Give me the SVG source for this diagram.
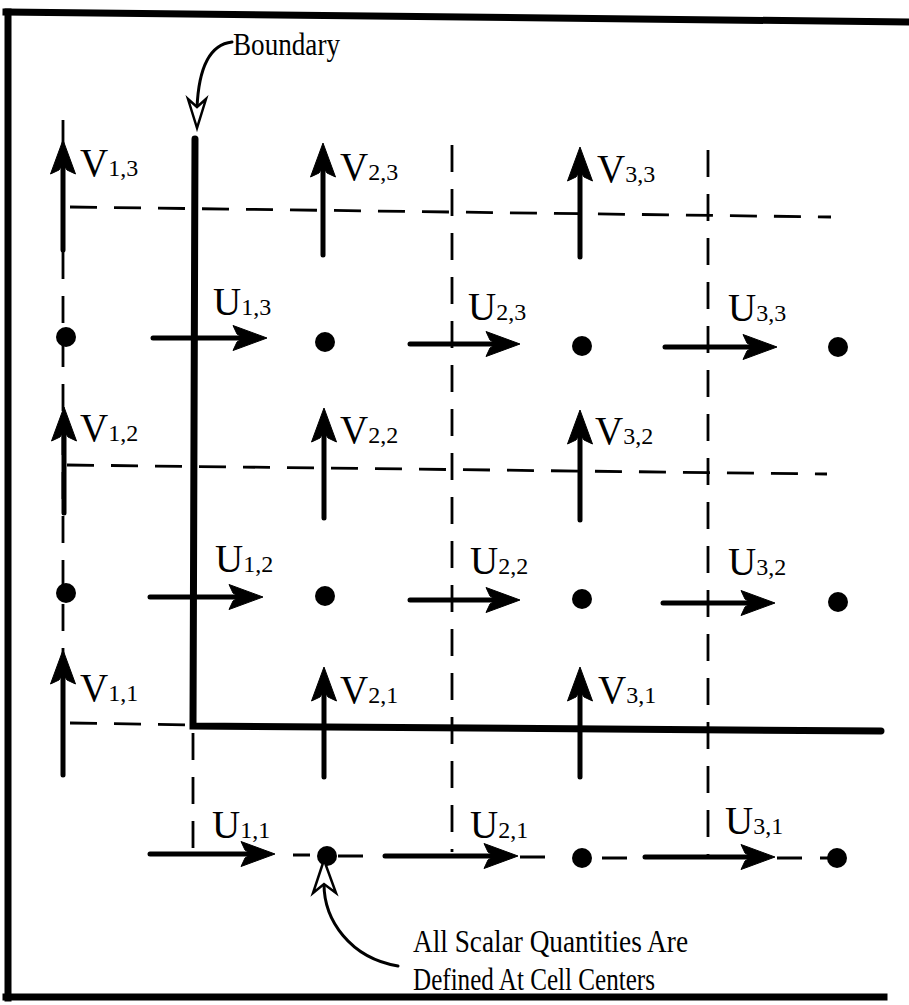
<svg xmlns="http://www.w3.org/2000/svg" width="909" height="1005" viewBox="0 0 909 1005">
  <style>
    .frame { stroke: #000; stroke-width: 7; fill: none; stroke-linecap: square; }
    .grid { stroke: #000; stroke-width: 2.8; fill: none; stroke-dasharray: 27 17; }
    .gridseg { stroke: #000; stroke-width: 2.8; fill: none; }
    .bnd { stroke: #000; stroke-width: 7; fill: none; stroke-linecap: round; stroke-linejoin: miter; }
    .shaft { stroke: #000; stroke-width: 5; fill: none; stroke-linecap: round; }
    .head { fill: #000; stroke: #000; stroke-width: 1; stroke-linejoin: round; }
    .callout { stroke: #000; stroke-width: 3; fill: none; stroke-linecap: round; }
    .hollow { stroke: #000; stroke-width: 2.5; fill: #fff; stroke-linejoin: miter; }
    .dot { fill: #000; }
    .lbl { font-family: "Liberation Serif", "Times New Roman", serif; font-size: 39px; fill: #000; }
    .sub { font-size: 24px; }
    .note { font-family: "Liberation Serif", "Times New Roman", serif; font-size: 31px; fill: #000; }
  </style>

  <rect width="909" height="1005" fill="#fff"/>

  <!-- outer frame (open on the right) -->
  <g id="frame">
    <path class="frame" d="M6,12 L909,22"/>
    <path class="frame" d="M8,12 L8,998"/>
    <path class="frame" d="M6,997 L884,997"/>
  </g>

  <!-- dashed cell faces -->
  <g id="grid-lines">
    <path class="grid" d="M70,207 L831,217"/>
    <path class="grid" d="M67,465 L827,474"/>
    <path class="grid" d="M70,723 L192,725"/>
    <path class="grid" d="M63,120 L63,780"/>
    <path class="grid" d="M452,145 L452,852"/>
    <path class="grid" d="M708,150 L708,855"/>
    <path class="grid" d="M193,733 L193,852"/>
    <!-- bottom row of cell centres -->
    <path class="gridseg" d="M293,855 L310,855 M338,856 L363,856 M520,857 L545,857 M602,858 L627,858 M777,858 L802,858 M820,858 L830,858"/>
  </g>

  <!-- domain boundary -->
  <g id="boundary">
    <path class="bnd" d="M195,139 L193,726 L881,731"/>
  </g>

  <!-- scalar points at cell centres -->
  <g id="cell-centres">
    <circle class="dot" cx="66" cy="337" r="10"/>
    <circle class="dot" cx="325" cy="342" r="10"/>
    <circle class="dot" cx="582" cy="346" r="10"/>
    <circle class="dot" cx="838" cy="347" r="10"/>
    <circle class="dot" cx="66" cy="593" r="10"/>
    <circle class="dot" cx="325" cy="596" r="10"/>
    <circle class="dot" cx="582" cy="599" r="10"/>
    <circle class="dot" cx="838" cy="602" r="10"/>
    <circle class="dot" cx="327" cy="856" r="10"/>
    <circle class="dot" cx="582" cy="858" r="10"/>
    <circle class="dot" cx="837" cy="858" r="10"/>
  </g>

  <!-- V velocities (vertical faces); heads drawn tip-first -->
  <g id="V13">
    <path class="shaft" d="M63,250 L63,160"/>
    <path class="head" d="M63,140 l-12.5,34 l8.5,-4 l4,-6 l4,6 l8.5,4 z"/>
    <text class="lbl" x="80" y="176">V<tspan class="sub">1,3</tspan></text>
  </g>
  <g id="V23">
    <path class="shaft" d="M323,255 L323,163"/>
    <path class="head" d="M323,143 l-12.5,34 l8.5,-4 l4,-6 l4,6 l8.5,4 z"/>
    <text class="lbl" x="340" y="180">V<tspan class="sub">2,3</tspan></text>
  </g>
  <g id="V33">
    <path class="shaft" d="M580,257 L580,167"/>
    <path class="head" d="M580,147 l-12.5,34 l8.5,-4 l4,-6 l4,6 l8.5,4 z"/>
    <text class="lbl" x="597" y="182">V<tspan class="sub">3,3</tspan></text>
  </g>
  <g id="V12">
    <path class="shaft" d="M64,513 L64,427"/>
    <path class="head" d="M64,407 l-12.5,34 l8.5,-4 l4,-6 l4,6 l8.5,4 z"/>
    <text class="lbl" x="80" y="441">V<tspan class="sub">1,2</tspan></text>
  </g>
  <g id="V22">
    <path class="shaft" d="M324,518 L324,428"/>
    <path class="head" d="M324,408 l-12.5,34 l8.5,-4 l4,-6 l4,6 l8.5,4 z"/>
    <text class="lbl" x="340" y="443">V<tspan class="sub">2,2</tspan></text>
  </g>
  <g id="V32">
    <path class="shaft" d="M580,520 L580,430"/>
    <path class="head" d="M580,410 l-12.5,34 l8.5,-4 l4,-6 l4,6 l8.5,4 z"/>
    <text class="lbl" x="595" y="444">V<tspan class="sub">3,2</tspan></text>
  </g>
  <g id="V11">
    <path class="shaft" d="M63,775 L63,670"/>
    <path class="head" d="M63,650 l-12.5,34 l8.5,-4 l4,-6 l4,6 l8.5,4 z"/>
    <text class="lbl" x="80" y="701">V<tspan class="sub">1,1</tspan></text>
  </g>
  <g id="V21">
    <path class="shaft" d="M324,777 L324,687"/>
    <path class="head" d="M324,667 l-12.5,34 l8.5,-4 l4,-6 l4,6 l8.5,4 z"/>
    <text class="lbl" x="340" y="703">V<tspan class="sub">2,1</tspan></text>
  </g>
  <g id="V31">
    <path class="shaft" d="M580,777 L580,687"/>
    <path class="head" d="M580,667 l-12.5,34 l8.5,-4 l4,-6 l4,6 l8.5,4 z"/>
    <text class="lbl" x="598" y="703">V<tspan class="sub">3,1</tspan></text>
  </g>

  <!-- U velocities (horizontal faces) -->
  <g id="U13">
    <path class="shaft" d="M153,338 L247,338"/>
    <path class="head" d="M267,338 l-34,-12.5 l4,8.5 l6,4 l-6,4 l-4,8.5 z"/>
    <text class="lbl" x="213" y="315">U<tspan class="sub">1,3</tspan></text>
  </g>
  <g id="U23">
    <path class="shaft" d="M410,344 L500,344"/>
    <path class="head" d="M520,344 l-34,-12.5 l4,8.5 l6,4 l-6,4 l-4,8.5 z"/>
    <text class="lbl" x="468" y="320">U<tspan class="sub">2,3</tspan></text>
  </g>
  <g id="U33">
    <path class="shaft" d="M665,347 L757,347"/>
    <path class="head" d="M777,347 l-34,-12.5 l4,8.5 l6,4 l-6,4 l-4,8.5 z"/>
    <text class="lbl" x="728" y="321">U<tspan class="sub">3,3</tspan></text>
  </g>
  <g id="U12">
    <path class="shaft" d="M150,597 L243,597"/>
    <path class="head" d="M263,597 l-34,-12.5 l4,8.5 l6,4 l-6,4 l-4,8.5 z"/>
    <text class="lbl" x="215" y="572">U<tspan class="sub">1,2</tspan></text>
  </g>
  <g id="U22">
    <path class="shaft" d="M410,600 L500,600"/>
    <path class="head" d="M520,600 l-34,-12.5 l4,8.5 l6,4 l-6,4 l-4,8.5 z"/>
    <text class="lbl" x="470" y="574">U<tspan class="sub">2,2</tspan></text>
  </g>
  <g id="U32">
    <path class="shaft" d="M663,603 L755,603"/>
    <path class="head" d="M775,603 l-34,-12.5 l4,8.5 l6,4 l-6,4 l-4,8.5 z"/>
    <text class="lbl" x="728" y="575">U<tspan class="sub">3,2</tspan></text>
  </g>
  <g id="U11">
    <path class="shaft" d="M150,854 L255,854"/>
    <path class="head" d="M275,854 l-34,-12.5 l4,8.5 l6,4 l-6,4 l-4,8.5 z"/>
    <text class="lbl" x="212" y="838">U<tspan class="sub">1,1</tspan></text>
  </g>
  <g id="U21">
    <path class="shaft" d="M385,856 L498,856"/>
    <path class="head" d="M518,856 l-34,-12.5 l4,8.5 l6,4 l-6,4 l-4,8.5 z"/>
    <text class="lbl" x="470" y="838">U<tspan class="sub">2,1</tspan></text>
  </g>
  <g id="U31">
    <path class="shaft" d="M645,857 L755,857"/>
    <path class="head" d="M775,857 l-34,-12.5 l4,8.5 l6,4 l-6,4 l-4,8.5 z"/>
    <text class="lbl" x="725" y="834">U<tspan class="sub">3,1</tspan></text>
  </g>

  <!-- callout leaders -->
  <g id="connectors">
    <path class="callout" d="M232,42 C214,44 199,60 197,108"/>
    <path class="hollow" d="M197,128 L188,99 L197,107 L206,99 Z"/>
    <path class="callout" d="M324,884 C324,920 350,958 398,966"/>
    <path class="hollow" d="M324,860 L313,893 L324,884 L336,893 Z"/>
  </g>

  <!-- annotations -->
  <g id="label-boundary">
    <text class="note" x="233" y="55" textLength="107" lengthAdjust="spacingAndGlyphs">Boundary</text>
  </g>
  <g id="label-scalars">
    <text class="note" x="413" y="952" textLength="275" lengthAdjust="spacingAndGlyphs">All Scalar Quantities Are</text>
    <text class="note" x="413" y="990" textLength="242" lengthAdjust="spacingAndGlyphs">Defined At Cell Centers</text>
  </g>
</svg>
